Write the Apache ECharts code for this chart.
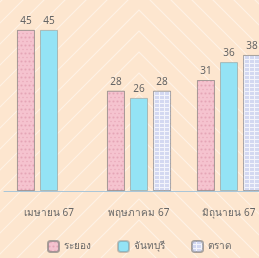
<!DOCTYPE html>
<html>
<head>
<meta charset="utf-8">
<script src="https://cdn.jsdelivr.net/npm/echarts@6/dist/echarts.min.js"></script>
<style>
html, body { margin: 0; padding: 0; overflow: hidden; width: 259px; height: 258px; }
#main { width: 278px; height: 258px; }
</style>
</head>
<body>
<div id="main"></div>
<script>
var months = ['เมษายน 67', 'พฤษภาคม 67', 'มิถุนายน 67'];
var names = ['ระยอง', 'จันทบุรี', 'ตราด'];
var rayong = [45, 28, 31];
var chanthaburi = [45, 26, 36];
var trat = [null, 28, 38];

// chevron background
function makeBg() {
	var c = document.createElement('canvas');
	c.width = 278; c.height = 258;
	var ctx = c.getContext('2d');
	ctx.fillStyle = '#fde6cf';
	ctx.fillRect(0, 0, c.width, c.height);
	ctx.strokeStyle = 'rgba(255,255,255,0.45)';
	ctx.lineWidth = 1.2;
	for (var k = -20; k < 20; k++) {
		var y0 = k * 21 + 10;
		ctx.beginPath();
		ctx.moveTo(-20, y0 + 159);
		ctx.lineTo(139, y0);
		ctx.lineTo(298, y0 + 159);
		ctx.stroke();
	}
	return c;
}

var myChart = echarts.init(document.getElementById('main'));
var lbl = { show: true, position: 'top', color: '#666', fontSize: 10, distance: 4 };
var border = { borderColor: 'rgba(120,120,120,0.4)', borderWidth: 1 };
var option = {
	backgroundColor: { image: makeBg(), repeat: 'no-repeat' },
	textStyle: { fontFamily: 'Noto Sans, DejaVu Sans, sans-serif' },
	grid: { left: 4, right: 4, top: 12, bottom: 67 },
	legend: {
		bottom: 0,
		left: 'center',
		itemWidth: 11,
		itemHeight: 11,
		itemGap: 26,
		textStyle: { color: '#666', fontSize: 10 },
		data: names
	},
	xAxis: {
		type: 'category',
		data: months,
		axisLine: { lineStyle: { color: '#aac6d8' } },
		axisTick: { show: false },
		axisLabel: { color: '#666', fontSize: 10, margin: 17 }
	},
	yAxis: { type: 'value', min: 0, max: 50, show: false, splitLine: { show: false } },
	series: [
		{
			name: names[0], type: 'bar', data: rayong, barWidth: 18, barGap: '28%',
			label: lbl,
			itemStyle: Object.assign({
				color: '#f5c3cf',
				decal: { symbol: 'circle', symbolSize: 0.7, dashArrayX: [[3, 1], [0, 2, 2, 0]], dashArrayY: [3, 1], color: 'rgba(205,120,145,0.4)' }
			}, border)
		},
		{
			name: names[1], type: 'bar', data: chanthaburi, barWidth: 18,
			label: lbl,
			itemStyle: Object.assign({ color: '#94e3f5' }, border)
		},
		{
			name: names[2], type: 'bar', data: trat, barWidth: 18,
			label: lbl,
			itemStyle: Object.assign({
				color: '#f3f4fb',
				decal: { symbol: 'rect', symbolSize: 1, dashArrayX: [4, 1], dashArrayY: [3, 1], color: 'rgba(205,210,238,0.85)' }
			}, border)
		}
	]
};
myChart.setOption(option);
window.addEventListener('resize', function () {
	myChart.resize();
});
</script>
</body>
</html>
